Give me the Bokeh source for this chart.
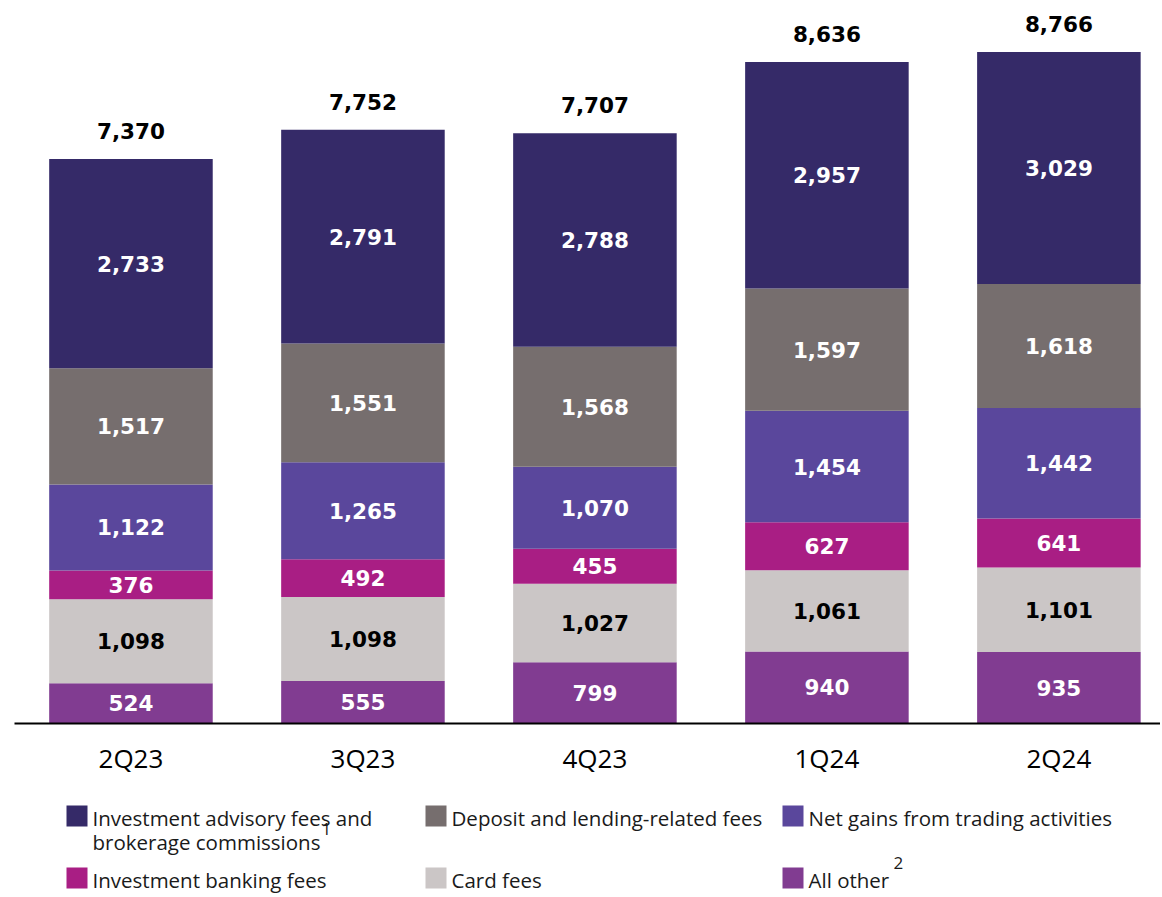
from bokeh.plotting import figure
from bokeh.layouts import column
from bokeh.models import Range1d, FixedTicker, ColumnDataSource
from bokeh.core.properties import value
from bokeh.embed import file_html
from bokeh.resources import INLINE

categories = ["2Q23", "3Q23", "4Q23", "1Q24", "2Q24"]
all_other = [524, 555, 799, 940, 935]
card_fees = [1098, 1098, 1027, 1061, 1101]
inv_banking = [376, 492, 455, 627, 641]
trading = [1122, 1265, 1070, 1454, 1442]
deposit = [1517, 1551, 1568, 1597, 1618]
advisory = [2733, 2791, 2788, 2957, 3029]
totals = [7370, 7752, 7707, 8636, 8766]

series_names = ["all_other", "card_fees", "inv_banking", "trading", "deposit", "advisory"]
series_values = [all_other, card_fees, inv_banking, trading, deposit, advisory]
series_colors = ["#813c91", "#cbc6c6", "#a91e84", "#5a479c", "#766e6e", "#352a68"]
label_colors = ["white", "black", "white", "white", "white", "white"]

legend_labels = [
    ["Investment advisory fees and", "brokerage commissions"],
    ["Deposit and lending-related fees"],
    ["Net gains from trading activities"],
    ["Investment banking fees"],
    ["Card fees"],
    ["All other"],
]
legend_colors = ["#352a68", "#766e6e", "#5a479c", "#a91e84", "#cbc6c6", "#813c91"]
legend_sups = ["1", "", "", "", "", "2"]

NUM_FONT = value("DejaVu Sans")
TXT_FONT = value("Open Sans")

W = 1160
LEFT = 14
x = list(range(len(categories)))
data = {"x": x}
for n, v in zip(series_names, series_values):
    data[n] = v
source = ColumnDataSource(data)

p = figure(width=W, height=783, x_range=Range1d(-0.502, 4.438), y_range=Range1d(0, 9334),
           output_backend="svg", toolbar_location=None, y_axis_location=None,
           min_border_left=LEFT, min_border_right=0, min_border_top=8, min_border_bottom=60)
p.outline_line_color = None
p.xgrid.visible = False
p.ygrid.visible = False

p.vbar_stack(series_names, x="x", width=0.705, color=series_colors, line_color=None, source=source)

# segment labels
cum = [0] * len(categories)
for vals, tc in zip(series_values, label_colors):
    mids = [c + v / 2 for c, v in zip(cum, vals)]
    cum = [c + v for c, v in zip(cum, vals)]
    p.text(x=x, y=mids, text=[f"{v:,}" for v in vals], text_align="center", text_baseline="middle",
           text_font=NUM_FONT, text_font_style="bold", text_font_size="21.5px", text_color=tc)

# totals
p.text(x=x, y=totals, text=[f"{v:,}" for v in totals], text_align="center", text_baseline="middle",
       y_offset=-28, text_font=NUM_FONT, text_font_style="bold", text_font_size="21.5px", text_color="black")

p.xaxis.ticker = FixedTicker(ticks=x)
p.xaxis.major_label_overrides = {i: c for i, c in zip(x, categories)}
p.xaxis.major_tick_line_color = None
p.xaxis.minor_tick_line_color = None
p.xaxis.axis_line_color = "black"
p.xaxis.axis_line_width = 2
p.xaxis.major_label_standoff = 10
p.xaxis.major_label_text_font = "Open Sans"
p.xaxis.major_label_text_font_size = "26px"
p.xaxis.major_label_text_color = "black"

# legend figure (coordinates in page pixels)
LH = 114
lp = figure(width=W, height=LH, x_range=Range1d(LEFT, W), y_range=Range1d(LH, 0),
            output_backend="svg", toolbar_location=None, x_axis_location=None, y_axis_location=None,
            min_border_left=LEFT, min_border_right=0, min_border_top=0, min_border_bottom=0)
lp.outline_line_color = None
lp.xgrid.visible = False
lp.ygrid.visible = False

col_x = [66, 425, 782]
row_top = [22, 84]
sw = 21
line_gap = 24
sup_pos = {0: (321, 45), 5: (893, 79)}
for i, (lab, col, sup) in enumerate(zip(legend_labels, legend_colors, legend_sups)):
    r, c = divmod(i, 3)
    lx = col_x[c]
    ty = row_top[r]
    lp.quad(left=[lx], right=[lx + sw], top=[ty], bottom=[ty + sw], color=col, line_color=None)
    for k, line in enumerate(lab):
        lp.text(x=[lx + 26], y=[ty + 12 + k * line_gap], text=[line], text_align="left",
                text_baseline="middle", text_font=TXT_FONT, text_font_size="20.5px", text_color="#1a1a1a")
    if sup:
        sx, sy = sup_pos[i]
        lp.text(x=[sx], y=[sy], text=[sup], text_align="left", text_baseline="middle",
                text_font=TXT_FONT, text_font_size="17px", text_color="#1a1a1a")

layout = column(p, lp, spacing=0)
open("out.html", "w").write(file_html(layout, INLINE))
